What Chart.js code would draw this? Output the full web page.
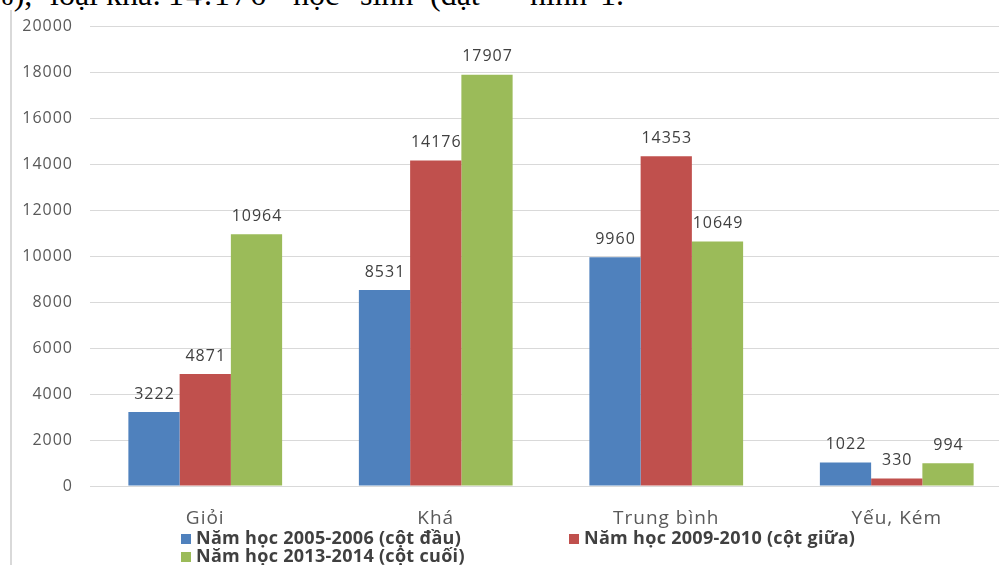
<!DOCTYPE html>
<html><head><meta charset="utf-8">
<script src="https://cdn.jsdelivr.net/npm/chart.js@4.4.0/dist/chart.umd.min.js"></script>
<style>
html,body{margin:0;padding:0;background:#fff;overflow:hidden;width:999px;height:565px;}
#wrap{position:absolute;left:0;top:0;width:1020px;height:565px;}
.tw{position:absolute;top:-22px;font-family:"Liberation Serif",serif;font-size:32px;line-height:32px;color:#000;white-space:pre;}
#frame{position:absolute;left:10px;top:10px;width:2px;height:560px;background:#d9d9d9;}
</style></head>
<body>
<div class="tw" style="left:-29px">3%),</div>
<div class="tw" style="left:50px">loại</div>
<div class="tw" style="left:106px">khá:</div>
<div class="tw" style="left:168px;letter-spacing:2px">14.176</div>
<div class="tw" style="left:293px">học</div>
<div class="tw" style="left:360px">sinh</div>
<div class="tw" style="left:430px">(đạt</div>
<div class="tw" style="left:530px">hình</div>
<div class="tw" style="left:600px">1.</div>
<div id="frame"></div>
<div id="wrap"><canvas id="c" width="1020" height="565"></canvas></div>
<script>
const categories = ["Giỏi", "Khá", "Trung bình", "Yếu, Kém"];
const seriesNames = ["Năm học 2005-2006 (cột đầu)", "Năm học 2009-2010 (cột giữa)", "Năm học 2013-2014 (cột cuối)"];
const values2005 = [3222, 8531, 9960, 1022];
const values2009 = [4871, 14176, 14353, 330];
const values2013 = [10964, 17907, 10649, 994];
const yTicks = [0, 2000, 4000, 6000, 8000, 10000, 12000, 14000, 16000, 18000, 20000];
const colors = ["#4F81BD", "#C0504D", "#9BBB59"];

const spacing = {
  id: 'spacing',
  beforeUpdate(chart) { chart.ctx.letterSpacing = '1px'; },
  beforeDraw(chart) { chart.ctx.letterSpacing = '1px'; }
};

const dataLabels = {
  id: 'dataLabels',
  afterDatasetsDraw(chart) {
    const ctx = chart.ctx;
    ctx.save();
    ctx.letterSpacing = '1px';
    ctx.font = '16px "Open Sans", sans-serif';
    ctx.fillStyle = '#404040';
    ctx.textAlign = 'center';
    ctx.textBaseline = 'middle';
    chart.data.datasets.forEach((ds, i) => {
      chart.getDatasetMeta(i).data.forEach((bar, j) => {
        ctx.fillText(String(ds.data[j]), bar.x + 0.5, bar.y - 18);
      });
    });
    ctx.restore();
  }
};

const customLegend = {
  id: 'customLegend',
  afterDraw(chart) {
    const ctx = chart.ctx;
    ctx.save();
    ctx.letterSpacing = '0.3px';
    ctx.font = 'bold 18px "Open Sans", sans-serif';
    ctx.textBaseline = 'middle';
    const pos = [[181, 539], [569, 539], [181, 557]];
    chart.data.datasets.forEach((ds, i) => {
      const [x, y] = pos[i];
      ctx.fillStyle = ds.backgroundColor;
      ctx.fillRect(x, y - 5, 10, 10);
      ctx.fillStyle = '#404040';
      ctx.fillText(ds.label, x + 15, y);
    });
    ctx.restore();
  }
};

new Chart(document.getElementById('c'), {
  type: 'bar',
  data: {
    labels: categories,
    datasets: [
      { label: seriesNames[0], data: values2005, backgroundColor: colors[0] },
      { label: seriesNames[1], data: values2009, backgroundColor: colors[1] },
      { label: seriesNames[2], data: values2013, backgroundColor: colors[2] }
    ]
  },
  options: {
    responsive: false,
    animation: false,
    layout: { padding: { top: 25, right: 8, bottom: 32, left: 0 } },
    datasets: { bar: { categoryPercentage: 0.667, barPercentage: 1.0 } },
    plugins: { legend: { display: false }, tooltip: { enabled: false } },
    scales: {
      x: {
        grid: { display: false, drawTicks: false },
        border: { display: false },
        ticks: { color: '#595959', font: { size: 19, family: '"Open Sans", sans-serif' }, padding: 21 },
        afterFit(s) { s.height = 47; }
      },
      y: {
        min: 0, max: 20000,
        afterBuildTicks(s) { s.ticks = yTicks.map(v => ({ value: v })); },
        grid: { color: '#d9d9d9', drawTicks: false, lineWidth: 1 },
        border: { display: false },
        ticks: { color: '#595959', font: { size: 16, family: '"Open Sans", sans-serif' }, padding: 17, callback: v => String(v) },
        afterFit(s) { s.width = 90; }
      }
    }
  },
  plugins: [spacing, dataLabels, customLegend]
});
</script>
</body></html>
